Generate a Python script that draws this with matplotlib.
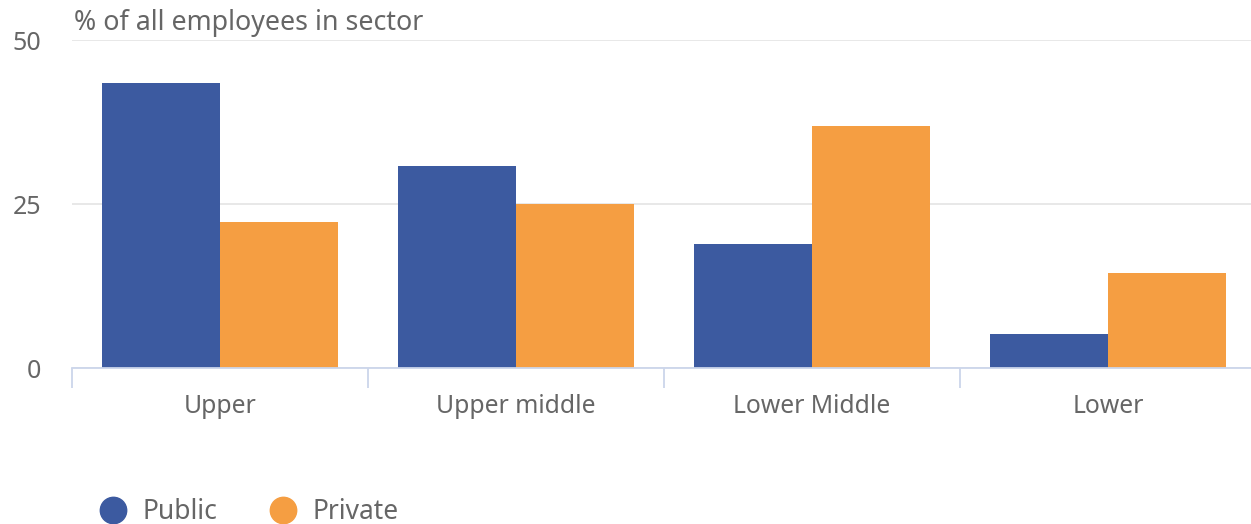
import matplotlib.pyplot as plt
from matplotlib.lines import Line2D
import numpy as np

plt.rcParams['font.family'] = ['Noto Sans', 'DejaVu Sans']

# data
categories = ['Upper', 'Upper middle', 'Lower Middle', 'Lower']
public = [43.4, 30.8, 18.9, 5.2]
private = [22.3, 25.0, 36.9, 14.5]

blue = '#3c5aa0'
orange = '#f59e42'
text_col = '#666666'

fig = plt.figure(figsize=(12.51, 5.24), dpi=100)
ax = fig.add_axes([72 / 1251, 1 - 368 / 524, (1256 - 72) / 1251, (368 - 40) / 524])

x = np.arange(len(categories))
ax.bar(x - 0.2, public, width=0.4, color=blue, zorder=3)
ax.bar(x + 0.2, private, width=0.4, color=orange, zorder=3)

ax.set_xlim(-0.5, len(categories) - 0.5)
ax.set_ylim(0, 50)
ax.set_yticks([0, 25, 50])
ax.yaxis.grid(True, color='#e6e6e6', linewidth=1.3, zorder=0)
ax.set_axisbelow(True)

for s in ['top', 'right', 'left']:
    ax.spines[s].set_visible(False)
ax.spines['bottom'].set_color('#ccd6eb')
ax.spines['bottom'].set_linewidth(1.3)
ax.spines['bottom'].set_zorder(4)

# category labels centred, tick marks on the boundaries
ax.set_xticks(x)
ax.set_xticklabels(categories)
ax.set_xticks(np.arange(-0.5, len(categories) + 0.5, 1), minor=True)
ax.tick_params(axis='x', which='major', length=0, pad=18.5, labelsize=17.8, labelcolor=text_col)
ax.tick_params(axis='x', which='minor', length=14.5, width=1.3, color='#ccd6eb')
ax.tick_params(axis='y', length=0, pad=22, labelsize=18, labelcolor=text_col)
for lbl in ax.get_yticklabels():
    lbl.set_verticalalignment('center_baseline')

fig.text(74 / 1251, 1 - 23 / 524, '% of all employees in sector', fontsize=19.3,
         color=text_col, va='center', ha='left')

handles = [Line2D([], [], marker='o', linestyle='', markersize=19, color=blue),
           Line2D([], [], marker='o', linestyle='', markersize=19, color=orange)]
fig.legend(handles, ['Public', 'Private'], loc='center left',
           bbox_to_anchor=(87 / 1251, 1 - 512 / 524), ncol=2, frameon=False,
           fontsize=19, labelcolor=text_col, handletextpad=0.1, columnspacing=1.5,
           borderpad=0, borderaxespad=0)

fig.savefig('out.png', dpi=100)
